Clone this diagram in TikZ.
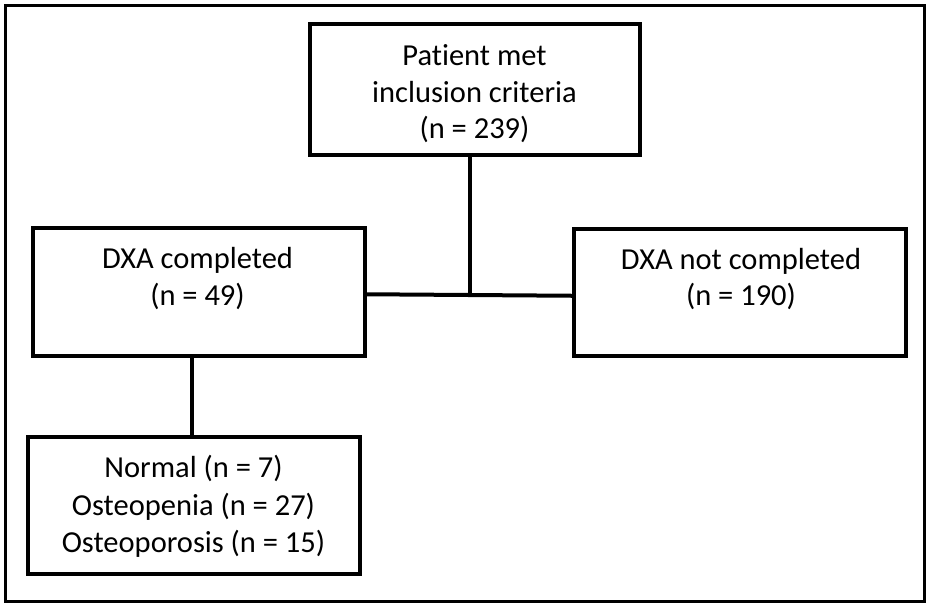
\documentclass[tikz,border=0pt]{standalone}
\usepackage{fontspec}
\setmainfont{Carlito}[Ligatures={NoCommon}]
\begin{document}
\begin{tikzpicture}[x=1pt,y=-1pt,
  box/.style={draw, line width=4pt, inner sep=0pt, fill=none},
  txt/.style={anchor=base, inner sep=0pt, font=\fontsize{30.5}{36}\selectfont},
  conn/.style={line width=4pt}]
\useasboundingbox (0,0) rectangle (929,606);
\draw[line width=3pt] (5,5) rectangle (924.5,601);
% boxes
\node[box, minimum width=330pt, minimum height=130.5pt] (top) at (474.5,89.25) {};
\node[box, minimum width=331.5pt, minimum height=127.5pt] (left) at (198.75,291.75) {};
\node[box, minimum width=331.5pt, minimum height=126.5pt] (right) at (739.75,292.25) {};
\node[box, minimum width=332pt, minimum height=137pt] (bot) at (193.5,505) {};
% texts
\node[txt] (t1) at (474.5,65) {Patient met};
\node[txt] (t2) at (474.5,102) {inclusion criteria};
\node[txt] (t3) at (474.5,138.5) {(n = 239)};
\node[txt] (l1) at (197.5,268) {DXA completed};
\node[txt] (l2) at (197.5,305) {(n = 49)};
\node[txt] (r1) at (741,269) {DXA not completed};
\node[txt] (r2) at (741,305.5) {(n = 190)};
\node[txt] (b1) at (193.5,477) {Normal (n = 7)};
\node[txt] (b2) at (193.5,515) {Osteopenia (n = 27)};
\node[txt] (b3) at (193.5,552) {Osteoporosis (n = 15)};
% connectors
\coordinate (j) at (470,295);
\draw[conn] (top.south -| j) -- (j);
\draw[conn] ([yshift=-2.5pt]left.east) -- ([yshift=-3.5pt]right.west);
\draw[conn] ([xshift=-1.5pt]bot.north |- left.south) -- ([xshift=-1.5pt]bot.north);
\end{tikzpicture}
\end{document}
